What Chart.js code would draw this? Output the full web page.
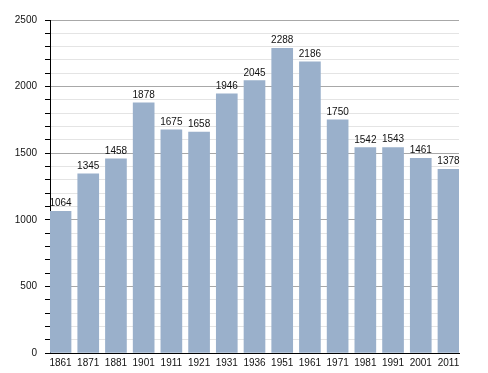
<!DOCTYPE html>
<html>
<head>
<meta charset="utf-8">
<script src="https://cdn.jsdelivr.net/npm/chart.js@4"></script>
<style>
  html, body { margin: 0; padding: 0; background: #fff; }
  #wrap { width: 488px; height: 373px; }
</style>
</head>
<body>
<div id="wrap"><canvas id="popChart" width="488" height="373"></canvas></div>
<script>
// Données
const years = ['1861', '1871', '1881', '1901', '1911', '1921', '1931', '1936', '1951', '1961', '1971', '1981', '1991', '2001', '2011'];
const population = [1064, 1345, 1458, 1878, 1675, 1658, 1946, 2045, 2288, 2186, 1750, 1542, 1543, 1461, 1378];
const yTickLabels = [0, 500, 1000, 1500, 2000, 2500];

const barColor = '#9ab0cb';
const textFont = { family: '"Liberation Sans", Arial, sans-serif', size: 10 };

// Valeurs au-dessus des barres
const valueLabels = {
    id: 'valueLabels',
    afterDatasetsDraw(chart) {
        const ctx = chart.ctx;
        const meta = chart.getDatasetMeta(0);
        ctx.save();
        ctx.font = '10px "Liberation Sans", Arial, sans-serif';
        ctx.fillStyle = '#111';
        ctx.textAlign = 'center';
        ctx.textBaseline = 'alphabetic';
        meta.data.forEach((bar, i) => {
            ctx.fillText(String(population[i]), bar.x, bar.y - 5);
        });
        ctx.restore();
    }
};

new Chart(document.getElementById('popChart').getContext('2d'), {
    type: 'bar',
    data: {
        datasets: [{
            data: population.map((v, i) => ({ x: i, y: v })),
            backgroundColor: barColor,
            borderWidth: 0,
            barThickness: 21
        }]
    },
    options: {
        responsive: false,
        animation: false,
        layout: { padding: { top: 20, right: 29, left: 0, bottom: 0 } },
        plugins: { legend: { display: false }, tooltip: { enabled: false } },
        scales: {
            x: {
                type: 'linear',
                offset: false,
                min: -0.38,
                max: 14.38,
                afterBuildTicks: (scale) => {
                    scale.ticks = years.map((_, i) => ({ value: i }));
                },
                afterFit: (scale) => { scale.height = 20; },
                grid: { display: false, drawTicks: false },
                border: { display: true, color: '#000', width: 1 },
                ticks: {
                    autoSkip: false,
                    maxRotation: 0,
                    padding: 4,
                    color: '#111',
                    font: textFont,
                    callback: (value) => years[value]
                }
            },
            y: {
                min: 0,
                max: 2500,
                afterFit: (scale) => { scale.width = 50; },
                ticks: {
                    stepSize: 100,
                    autoSkip: false,
                    padding: 8,
                    color: '#111',
                    font: textFont,
                    callback: (value) => yTickLabels.includes(value) ? String(value) : ''
                },
                grid: {
                    color: (c) => (c.tick && c.tick.value % 500 === 0) ? '#a8a8a8' : '#e4e4e4',
                    tickColor: '#000',
                    tickLength: 5
                },
                border: { display: true, color: '#000', width: 1 }
            }
        }
    },
    plugins: [valueLabels]
});
</script>
</body>
</html>
